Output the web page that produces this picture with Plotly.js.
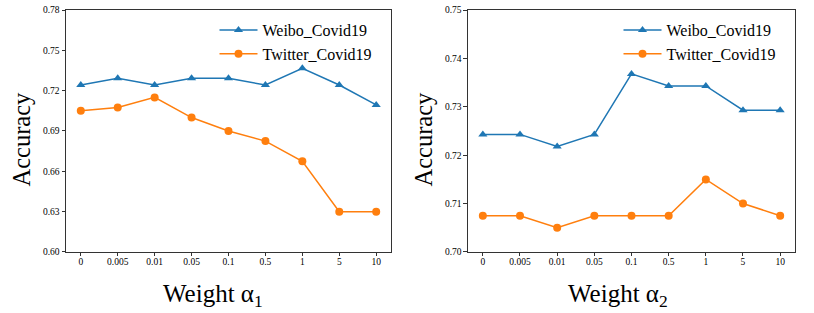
<!DOCTYPE html>
<html><head><meta charset="utf-8">
<script src="https://cdn.plot.ly/plotly-3.0.1.min.js"></script>
<style>html,body{margin:0;padding:0;background:#fff}#chart{width:814px;height:313px}</style>
</head><body><div id="chart"></div>
<script>
const weights = ["0","0.005","0.01","0.05","0.1","0.5","1","5","10"];
const weiboA1 = [0.7242,0.7292,0.7242,0.7292,0.7292,0.7242,0.7367,0.7242,0.7094];
const twitterA1 = [0.7050,0.7075,0.7150,0.7000,0.6900,0.6825,0.6675,0.6300,0.6300];
const weiboA2 = [0.7243,0.7243,0.7218,0.7243,0.7368,0.7343,0.7343,0.7293,0.7293];
const twitterA2 = [0.7075,0.7075,0.7050,0.7075,0.7075,0.7075,0.7150,0.7100,0.7075];
const xTitles = ['Weight α<sub>1</sub>', 'Weight α<sub>2</sub>'];
const yTitle = 'Accuracy';
const blue = '#1f77b4', orange = '#ff7f0e';
const serif = 'Liberation Serif';

function tr(y, name, color, sym, xa, ya, leg){
  return {x: weights, y: y, name: name, type:'scatter', mode:'lines+markers',
    xaxis: xa, yaxis: ya, legend: leg,
    line:{color:color, width:1.5}, marker:{color:color, symbol:sym, size:8}};
}
const data = [
  tr(weiboA1,'Weibo_Covid19',blue,'triangle-up','x','y','legend'),
  tr(twitterA1,'Twitter_Covid19',orange,'circle','x','y','legend'),
  tr(weiboA2,'Weibo_Covid19',blue,'triangle-up','x2','y2','legend2'),
  tr(twitterA2,'Twitter_Covid19',orange,'circle','x2','y2','legend2')
];
const axBase = {showgrid:false, zeroline:false, showline:true, mirror:true, linecolor:'#333', linewidth:1,
  ticks:'outside', ticklen:3.5, tickcolor:'#333', tickfont:{family:serif, size:9.5, color:'#000'}, automargin:false};
const xBase = Object.assign({}, axBase, {type:'category', range:[-0.4,8.4], ticklabelstandoff:-3});
function legFont(){ return {family:serif, size:16, color:'#000'}; }
function titleAnn(text, x, y, angle, size){
  return {text:text, xref:'paper', yref:'paper', x:x, y:y, xanchor:'center', yanchor:'middle',
    showarrow:false, textangle:angle, font:{family:serif, size:size, color:'#000'}};
}
const layout = {
  width:814, height:313, margin:{l:0,r:0,t:0,b:0}, paper_bgcolor:'#fff', plot_bgcolor:'#fff',
  font:{family:serif, color:'#000'},
  xaxis: Object.assign({}, xBase, {domain:[0.0811,0.4803], anchor:'y'}),
  yaxis: Object.assign({}, axBase, {domain:[0.195,0.968], anchor:'x', range:[0.60,0.78], dtick:0.03, tick0:0.6, tickformat:'.2f'}),
  xaxis2: Object.assign({}, xBase, {domain:[0.5749,0.9767], anchor:'y2'}),
  yaxis2: Object.assign({}, axBase, {domain:[0.195,0.968], anchor:'x2', range:[0.70,0.75], dtick:0.01, tick0:0.7, tickformat:'.2f'}),
  annotations: [
    titleAnn(xTitles[0], 213/814, 1-295/313, 0, 25),
    titleAnn(xTitles[1], 618/814, 1-295/313, 0, 25),
    titleAnn(yTitle, 21/814, 1-139.5/313, -90, 24.5),
    titleAnn(yTitle, 423/814, 1-139.5/313, -90, 24.5)
  ],
  legend:{x:214.5/814, y:0.958, xanchor:'left', yanchor:'top', bgcolor:'rgba(0,0,0,0)', font:legFont(), itemwidth:38, tracegroupgap:0},
  legend2:{x:618.5/814, y:0.958, xanchor:'left', yanchor:'top', bgcolor:'rgba(0,0,0,0)', font:legFont(), itemwidth:38, tracegroupgap:0},
  showlegend:true
};
Plotly.newPlot('chart', data, layout, {displayModeBar:false, staticPlot:true});
</script></body></html>
